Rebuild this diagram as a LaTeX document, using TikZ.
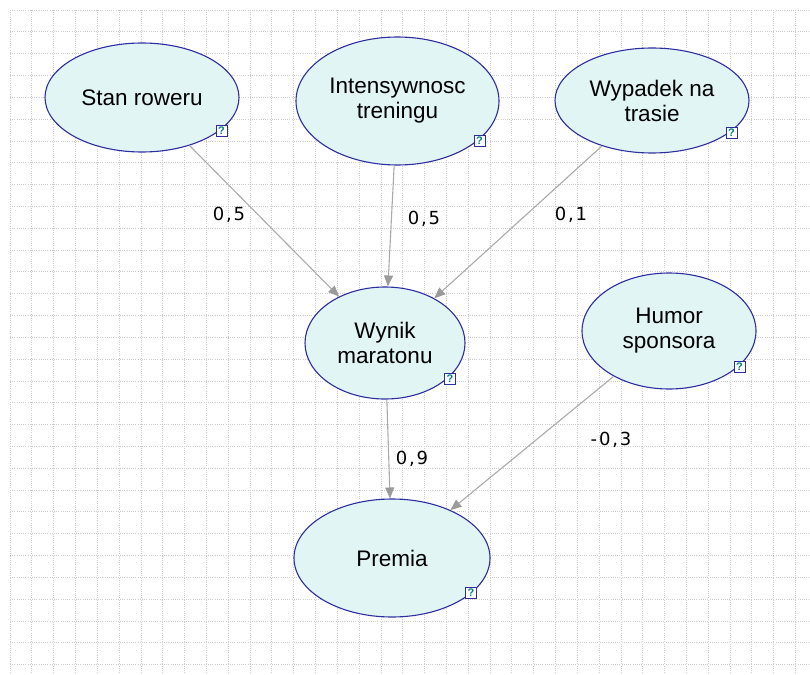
\documentclass[tikz,border=0pt]{standalone}
\usepackage{fontspec}
\setmainfont{Liberation Sans}
\newfontfamily\labfont[LetterSpace=10]{DejaVu Sans}
\usetikzlibrary{shapes.geometric,arrows.meta}
\definecolor{nodefill}{RGB}{226,245,245}
\definecolor{nodeline}{RGB}{45,45,160}
\definecolor{edgecol}{RGB}{170,170,170}
\definecolor{tipcol}{RGB}{155,155,155}
\definecolor{gridcol}{RGB}{205,205,205}
\definecolor{qcol}{RGB}{0,128,128}
\tikzset{
  var/.style={ellipse, draw=nodeline, fill=nodefill, line width=1.1pt, inner sep=0pt,
    align=center, font=\fontsize{22.5}{25}\selectfont},
  qbox/.style={rectangle, draw=nodeline, fill=white, line width=1pt, minimum width=11pt,
    minimum height=11pt, inner sep=0pt, text=qcol, font=\fontsize{11}{11}\selectfont\bfseries},
  edge/.style={draw=edgecol, line width=1.1pt, -{Triangle[length=11pt,width=9pt,color=tipcol,fill=tipcol]}},
  weight/.style={font=\fontsize{18}{18}\labfont, text=black, inner sep=0pt},
  gridline/.style={draw=gridcol, line width=0.8pt, dash pattern=on 1pt off 1.2pt}
}
\begin{document}
\begin{tikzpicture}[x=1pt,y=-1pt]
\useasboundingbox (0,0) rectangle (810,674);
% grid
\foreach \i in {0,...,36} {\draw[gridline] ({10+\i*21.82},10) -- ({10+\i*21.82},674);}
\foreach \j in {0,...,30} {\draw[gridline] (10,{10+\j*21.82}) -- (810,{10+\j*21.82});}
% nodes
\node[var, minimum width=194pt, minimum height=109pt] (stan) at (142,97.5) {Stan roweru};
\node[var, minimum width=203pt, minimum height=128pt] (intens) at (397.5,101) {Intensywnosc\\treningu};
\node[var, minimum width=194pt, minimum height=105pt] (wyp) at (652,100.5) {Wypadek na\\trasie};
\node[var, minimum width=160pt, minimum height=112pt] (wynik) at (385,343) {Wynik\\maratonu};
\node[var, minimum width=174pt, minimum height=116pt] (humor) at (669,331) {Humor\\sponsora};
\node[var, minimum width=196pt, minimum height=118pt] (premia) at (392,558) {Premia};
% question boxes
\node[qbox] (q1) at (221.5,130.5) {?};
\node[qbox] (q2) at (479.5,140.5) {?};
\node[qbox] (q3) at (731.5,132.5) {?};
\node[qbox] (q4) at (450,379) {?};
\node[qbox] (q5) at (739.5,367) {?};
\node[qbox] (q6) at (471,592.5) {?};
% edges
\draw[edge] (stan) -- (wynik);
\draw[edge] (intens) -- (wynik);
\draw[edge] (wyp) -- (wynik);
\draw[edge] (wynik) -- (premia);
\draw[edge] (humor) -- (premia);
% weights
\node[weight] (w1) at (229,215) {0,5};
\node[weight] (w2) at (424,219) {0,5};
\node[weight] (w3) at (571,215) {0,1};
\node[weight] (w4) at (412,459) {0,9};
\node[weight] (w5) at (611,440) {-0,3};
\end{tikzpicture}
\end{document}
